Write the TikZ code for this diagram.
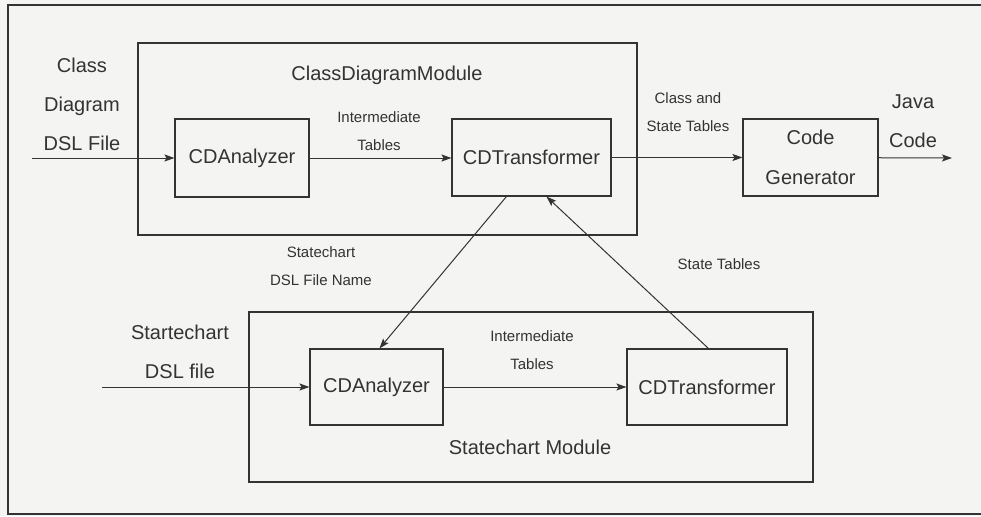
\documentclass[tikz,border=0pt]{standalone}
\usepackage{fontspec}
\setmainfont{Liberation Sans}
\usepackage{tikz}
\usetikzlibrary{arrows.meta, positioning, calc}

\definecolor{inkgray}{HTML}{333333}
\definecolor{papergray}{HTML}{F4F4F3}

\begin{document}
\begin{tikzpicture}[
    x=1pt, y=-1pt,
    every node/.style = {text=inkgray},
    module/.style = {rectangle, draw=inkgray, line width=1.1pt, inner sep=0pt},
    block/.style = {rectangle, draw=inkgray, line width=1.1pt, inner sep=0pt, align=center, font=\fontsize{20}{40}\selectfont},
    biglabel/.style = {inner sep=0pt, align=center, font=\fontsize{20}{39}\selectfont},
    smalllabel/.style = {inner sep=0pt, align=center, font=\fontsize{15}{28}\selectfont},
    flow/.style = {-{Stealth[length=10pt, width=7pt, inset=2pt]}, line width=1pt, draw=inkgray}
]

% Page and frame (the right side is open)
\fill[papergray] (0,0) rectangle (981,516);
\useasboundingbox (0,0) rectangle (981,516);
\draw[inkgray, line width=1.1pt] (981,5) -- (8,5) -- (8,514) -- (981,514);

% Modules
\node[module, minimum width=499pt, minimum height=192pt] (cdmod) at (387.5,139) {};
\node[module, minimum width=564pt, minimum height=170pt] (scmod) at (531,397) {};

% Blocks of the class diagram module
\node[block, minimum width=134pt, minimum height=78pt] (cda1) at (242,158) {CDAnalyzer};
\node[block, minimum width=159pt, minimum height=77pt] (cdt1) at (531.5,157.5) {CDTransformer};
\node[block, minimum width=135pt, minimum height=77pt] (cgen) at (810.5,157.5) {Code\\Generator};

% Blocks of the statechart module
\node[block, minimum width=133pt, minimum height=76pt] (cda2) at (376.5,387) {CDAnalyzer};
\node[block, minimum width=160pt, minimum height=76pt] (cdt2) at (707,387) {CDTransformer};

% Free ends
\coordinate (cdin) at (32,158);
\coordinate (scin) at (102,387);
\coordinate (javaout) at (952,158);

% Labels
\node[biglabel] (cdinlbl) at (82,104) {Class\\Diagram\\DSL File};
\node[biglabel] (cdmodlbl) at (387,75) {ClassDiagramModule};
\node[smalllabel] (imt1) at (379,131) {Intermediate\\Tables};
\node[smalllabel] (cstab) at (688,112) {Class and\\State Tables};
\node[biglabel] (javalbl) at (913,121) {Java\\Code};
\node[smalllabel] (scname) at (321,266) {Statechart\\DSL File Name};
\node[smalllabel] (sttab) at (719,264) {State Tables};
\node[biglabel] (scinlbl) at (180,352) {Startechart\\DSL file};
\node[smalllabel] (imt2) at (532,350) {Intermediate\\Tables};
\node[biglabel] (scmodlbl) at (530,447) {Statechart Module};

% Flow through the class diagram module
\draw[flow] (cdin) -- (cda1);
\draw[flow] (cda1) -- (cda1 -| cdt1.west);
\draw[flow] (cdt1.east |- cgen) -- (cgen);
\draw[flow] (cgen) -- (javaout);

% Flow through the statechart module
\draw[flow] (scin) -- (cda2);
\draw[flow] (cda2) -- (cdt2);

% Links between the modules
\draw[flow] ([xshift=55pt]cdt1.south west) -- ([xshift=70pt]cda2.north west);
\draw[flow] ([xshift=82pt]cdt2.north west) -- ([xshift=95pt]cdt1.south west);

\end{tikzpicture}
\end{document}
